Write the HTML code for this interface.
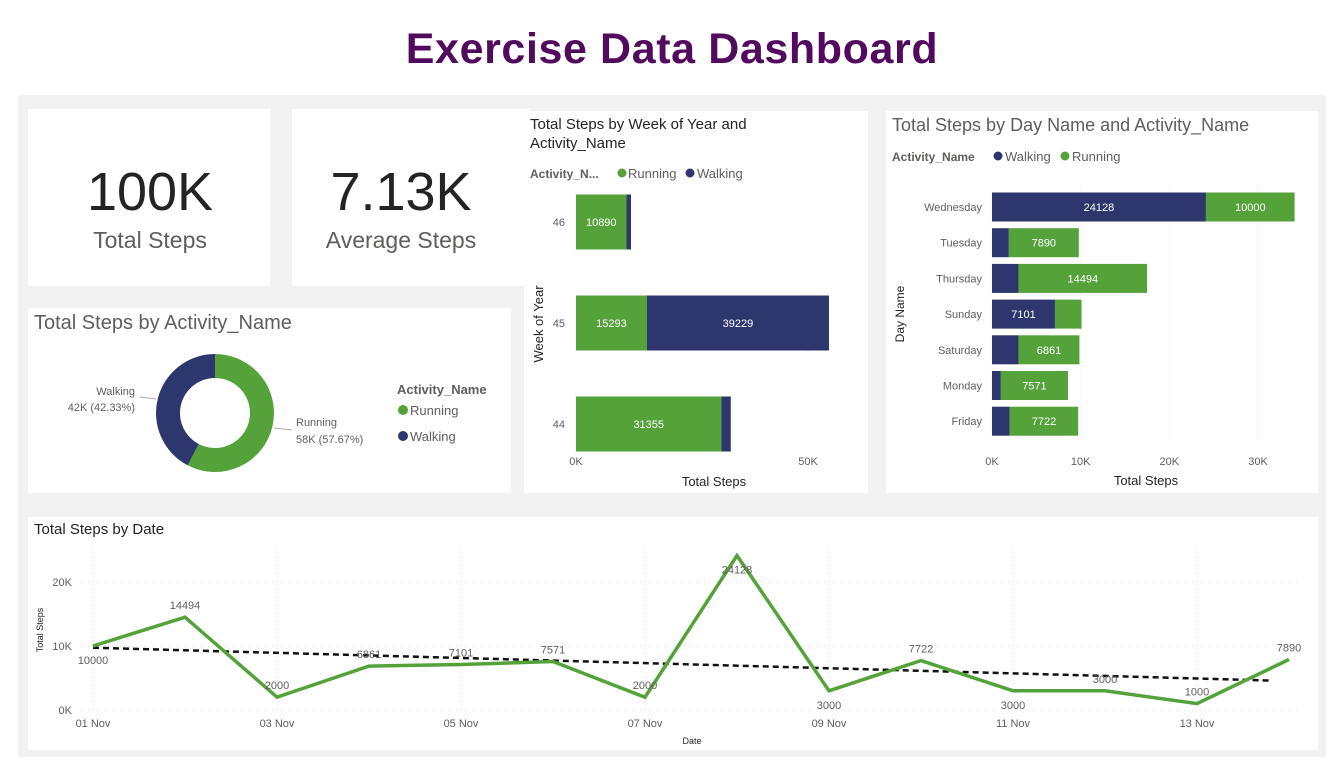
<!DOCTYPE html>
<html><head><meta charset="utf-8">
<style>
html,body{margin:0;padding:0;background:#fff;}
body{width:1342px;height:771px;overflow:hidden;font-family:"Liberation Sans","DejaVu Sans",sans-serif;}
svg text{font-family:"Liberation Sans","DejaVu Sans",sans-serif;}
</style></head>
<body>
<svg id="root" width="1342" height="771" xmlns="http://www.w3.org/2000/svg">
  <text x="672" y="63" text-anchor="middle" font-size="43" font-weight="bold" letter-spacing="0.6" fill="#520a5e">Exercise Data Dashboard</text>
  <rect x="18" y="95" width="1308" height="662" fill="#f2f2f2"/>

  <g>
    <rect x="28" y="109" width="242" height="177" fill="#fff"/>
    <text x="150" y="210" text-anchor="middle" font-size="54" fill="#252423">100K</text>
    <text x="150" y="248" text-anchor="middle" font-size="23" fill="#605e5c">Total Steps</text>
  </g>
  <g>
    <rect x="292" y="109" width="238" height="177" fill="#fff"/>
    <text x="401" y="210" text-anchor="middle" font-size="54" fill="#252423">7.13K</text>
    <text x="401" y="248" text-anchor="middle" font-size="23" fill="#605e5c">Average Steps</text>
  </g>

  <g id="donutCard">
    <rect x="28" y="308" width="483" height="185" fill="#fff"/>
    <text x="34" y="329" font-size="20" fill="#605e5c">Total Steps by Activity_Name</text>
    <text x="397" y="394" font-size="13" font-weight="bold" fill="#605e5c">Activity_Name</text>
    <circle cx="403" cy="410" r="5" fill="#55a23a"/>
    <text x="410" y="415" font-size="13" fill="#605e5c">Running</text>
    <circle cx="403" cy="436" r="5" fill="#2d366d"/>
    <text x="410" y="441" font-size="13" fill="#605e5c">Walking</text>
  </g>

  <g id="weekCard">
    <rect x="524" y="111" width="344" height="382" fill="#fff"/>
    <text x="530" y="129" font-size="15" fill="#252423">Total Steps by Week of Year and</text>
    <text x="530" y="148" font-size="15" fill="#252423">Activity_Name</text>
    <text x="530" y="178" font-size="12" font-weight="bold" fill="#605e5c">Activity_N...</text>
    <circle cx="622" cy="173" r="4.5" fill="#55a23a"/>
    <text x="628" y="178" font-size="13" fill="#605e5c">Running</text>
    <circle cx="690" cy="173" r="4.5" fill="#2d366d"/>
    <text x="697" y="178" font-size="13" fill="#605e5c">Walking</text>
    <text transform="translate(543,324) rotate(-90)" text-anchor="middle" font-size="13" fill="#252423">Week of Year</text>
    <text x="714" y="486" text-anchor="middle" font-size="13" fill="#252423">Total Steps</text>
  </g>

  <g id="dayCard">
    <rect x="886" y="111" width="432" height="382" fill="#fff"/>
    <text x="892" y="131" font-size="18" fill="#605e5c">Total Steps by Day Name and Activity_Name</text>
    <text x="892" y="161" font-size="12" font-weight="bold" fill="#605e5c">Activity_Name</text>
    <circle cx="998" cy="156" r="4.5" fill="#2d366d"/>
    <text x="1005" y="161" font-size="13" fill="#605e5c">Walking</text>
    <circle cx="1065" cy="156" r="4.5" fill="#55a23a"/>
    <text x="1072" y="161" font-size="13" fill="#605e5c">Running</text>
    <text transform="translate(904,314) rotate(-90)" text-anchor="middle" font-size="12" fill="#252423">Day Name</text>
    <text x="1146" y="485" text-anchor="middle" font-size="13" fill="#252423">Total Steps</text>
  </g>

  <g id="lineCard">
    <rect x="28" y="517" width="1290" height="233" fill="#fff"/>
    <text x="34" y="534" font-size="15" fill="#252423">Total Steps by Date</text>
    <text transform="translate(43,630) rotate(-90)" text-anchor="middle" font-size="9" fill="#252423">Total Steps</text>
    <text x="692" y="744" text-anchor="middle" font-size="9" fill="#252423">Date</text>
  </g>
</svg>
<script>
const NS="http://www.w3.org/2000/svg";
const GREEN="#55a23a", NAVY="#2d366d";
// donut data
const donutLabels=["Running","Walking"];
const donutValues=[57670,42330];
// week chart data
const weekCats=["46","45","44"];
const weekRunning=[10890,15293,31355];
const weekWalking=[960,39229,2000];
const weekTicks=[0,50000];
const weekTickLabels=["0K","50K"];
// day chart data
const dayCats=["Wednesday","Tuesday","Thursday","Sunday","Saturday","Monday","Friday"];
const dayWalking=[24128,1900,3000,7101,3000,1000,2000];
const dayRunning=[10000,7890,14494,3000,6861,7571,7722];
const dayTicks=[0,10000,20000,30000];
const dayTickLabels=["0K","10K","20K","30K"];
// line chart data
const lineDates=["01 Nov","02 Nov","03 Nov","04 Nov","05 Nov","06 Nov","07 Nov","08 Nov","09 Nov","10 Nov","11 Nov","12 Nov","13 Nov","14 Nov"];
const lineValues=[10000,14494,2000,6861,7101,7571,2000,24128,3000,7722,3000,3000,1000,7890];
const lineYTicks=[0,10000,20000];
const lineYTickLabels=["0K","10K","20K"];
const lineLabelBelow=[true,false,false,false,false,false,false,true,true,false,true,false,false,false];

function mk(tag,attrs,parent,txt){const e=document.createElementNS(NS,tag);for(const k in attrs)e.setAttribute(k,attrs[k]);if(txt!==undefined)e.textContent=txt;parent.appendChild(e);return e;}

// Donut
(function(){
  const g=document.getElementById('donutCard');
  const cx=215,cy=413,R=59,r=35;
  const total=donutValues.reduce((a,b)=>a+b,0);
  const cols=[GREEN,NAVY];
  let a0=0;
  donutValues.forEach((v,i)=>{
    const a1=a0+v/total*2*Math.PI;
    const p=(a,rr)=>[cx+rr*Math.sin(a),cy-rr*Math.cos(a)];
    const [x0,y0]=p(a0,R),[x1,y1]=p(a1,R),[x2,y2]=p(a1,r),[x3,y3]=p(a0,r);
    const lg=(a1-a0)>Math.PI?1:0;
    const path=mk('path',{d:`M${x0},${y0}A${R},${R} 0 ${lg} 1 ${x1},${y1}L${x2},${y2}A${r},${r} 0 ${lg} 0 ${x3},${y3}Z`,fill:cols[i]},g);
    
    
    a0=a1;
  });
  mk('line',{x1:274,y1:428,x2:292,y2:430,stroke:'#aaa'},g);
  mk('line',{x1:140,y1:397,x2:156,y2:399,stroke:'#aaa'},g);
  const t1=mk('text',{x:296,y:426,'font-size':11,fill:'#605e5c'},g,'Running');
  
  
  const t2=mk('text',{x:296,y:443,'font-size':11,fill:'#605e5c'},g,'58K (57.67%)');
  
  
  const t3=mk('text',{x:135,y:395,'font-size':11,fill:'#605e5c','text-anchor':'end'},g,'Walking');
  
  
  const t4=mk('text',{x:135,y:411,'font-size':11,fill:'#605e5c','text-anchor':'end'},g,'42K (42.33%)');
  
  
})();

// Week chart
(function(){
  const g=document.getElementById('weekCard');
  const x0=576, xs=(808-576)/50000;
  const X=v=>x0+v*xs;
  const top=222, step=101, bh=55;
  weekTicks.forEach((t,i)=>{
    mk('line',{x1:X(t),y1:195,x2:X(t),y2:452,stroke:'#e6e6e6','stroke-dasharray':'1,3'},g);
    const tl=mk('text',{x:X(t),y:465,'font-size':11,fill:'#605e5c','text-anchor':'middle'},g,weekTickLabels[i]);
    
    
  });
  weekCats.forEach((c,i)=>{
    const cy=top+i*step;
    const lab=mk('text',{x:565,y:cy+4,'font-size':11,fill:'#605e5c','text-anchor':'end'},g,c);
    
    
    const b1=mk('rect',{x:X(0),y:cy-bh/2,width:weekRunning[i]*xs,height:bh,fill:GREEN},g);
    
    
    const b2=mk('rect',{x:X(weekRunning[i]),y:cy-bh/2,width:weekWalking[i]*xs,height:bh,fill:NAVY},g);
    
    
    const l1=mk('text',{x:X(weekRunning[i]/2),y:cy+4,'font-size':11,fill:'#fff','text-anchor':'middle'},g,String(weekRunning[i]));
    
    
    if(weekWalking[i]>8000){
      const l2=mk('text',{x:X(weekRunning[i]+weekWalking[i]/2),y:cy+4,'font-size':11,fill:'#fff','text-anchor':'middle'},g,String(weekWalking[i]));
      
      
    }
  });
})();

// Day chart
(function(){
  const g=document.getElementById('dayCard');
  const x0=992, xs=(1258-992)/30000;
  const X=v=>x0+v*xs;
  const top=207, step=35.7, bh=29;
  dayTicks.forEach((t,i)=>{
    mk('line',{x1:X(t),y1:185,x2:X(t),y2:440,stroke:'#e6e6e6','stroke-dasharray':'1,3'},g);
    const tl=mk('text',{x:X(t),y:465,'font-size':11,fill:'#605e5c','text-anchor':'middle'},g,dayTickLabels[i]);
    
    
  });
  dayCats.forEach((c,i)=>{
    const cy=top+i*step;
    const lab=mk('text',{x:982,y:cy+4,'font-size':11,fill:'#605e5c','text-anchor':'end'},g,c);
    
    
    const b1=mk('rect',{x:X(0),y:cy-bh/2,width:dayWalking[i]*xs,height:bh,fill:NAVY},g);
    
    
    const b2=mk('rect',{x:X(dayWalking[i]),y:cy-bh/2,width:dayRunning[i]*xs,height:bh,fill:GREEN},g);
    
    
    if(dayWalking[i]>5000){
      const l1=mk('text',{x:X(dayWalking[i]/2),y:cy+4,'font-size':11,fill:'#fff','text-anchor':'middle'},g,String(dayWalking[i]));
      
      
    }
    if(dayRunning[i]>5000){
      const l2=mk('text',{x:X(dayWalking[i]+dayRunning[i]/2),y:cy+4,'font-size':11,fill:'#fff','text-anchor':'middle'},g,String(dayRunning[i]));
      
      
    }
  });
})();

// Line chart
(function(){
  const g=document.getElementById('lineCard');
  const x0=93, dx=92, y0=710, ys=64/10000;
  const X=i=>x0+i*dx, Y=v=>y0-v*ys;
  lineYTicks.forEach((t,i)=>{
    mk('line',{x1:80,y1:Y(t),x2:1300,y2:Y(t),stroke:'#e3e3e3','stroke-dasharray':'1,3'},g);
    const tl=mk('text',{x:72,y:Y(t)+4,'font-size':11,fill:'#605e5c','text-anchor':'end'},g,lineYTickLabels[i]);
    
    
  });
  lineDates.forEach((d,i)=>{
    if(i%2===0){
      mk('line',{x1:X(i),y1:548,x2:X(i),y2:710,stroke:'#e3e3e3','stroke-dasharray':'1,3'},g);
      const tl=mk('text',{x:X(i),y:727,'font-size':11,fill:'#605e5c','text-anchor':'middle'},g,d);
      
      
    }
  });
  const n=lineValues.length;
  let sx=0,sy=0,sxx=0,sxy=0;
  lineValues.forEach((v,i)=>{sx+=i;sy+=v;sxx+=i*i;sxy+=i*v;});
  const b=(n*sxy-sx*sy)/(n*sxx-sx*sx), a=(sy-b*sx)/n;
  const tr=mk('line',{x1:X(0),y1:Y(a),x2:X(n-1)-18,y2:Y(a+b*(n-1-18/dx)),stroke:'#111','stroke-width':2.5,'stroke-dasharray':'6,4'},g);
  
  
  const pts=lineValues.map((v,i)=>X(i)+','+Y(v)).join(' ');
  const pl=mk('polyline',{points:pts,fill:'none',stroke:GREEN,'stroke-width':3.5,'stroke-linejoin':'miter'},g);
  
  
  lineValues.forEach((v,i)=>{
    const ly=lineLabelBelow[i]?Y(v)+18:Y(v)-8;
    const t=mk('text',{x:X(i),y:ly,'font-size':11,fill:'#605e5c','text-anchor':'middle'},g,String(v));
    
    
  });
})();
</script>
</body></html>
